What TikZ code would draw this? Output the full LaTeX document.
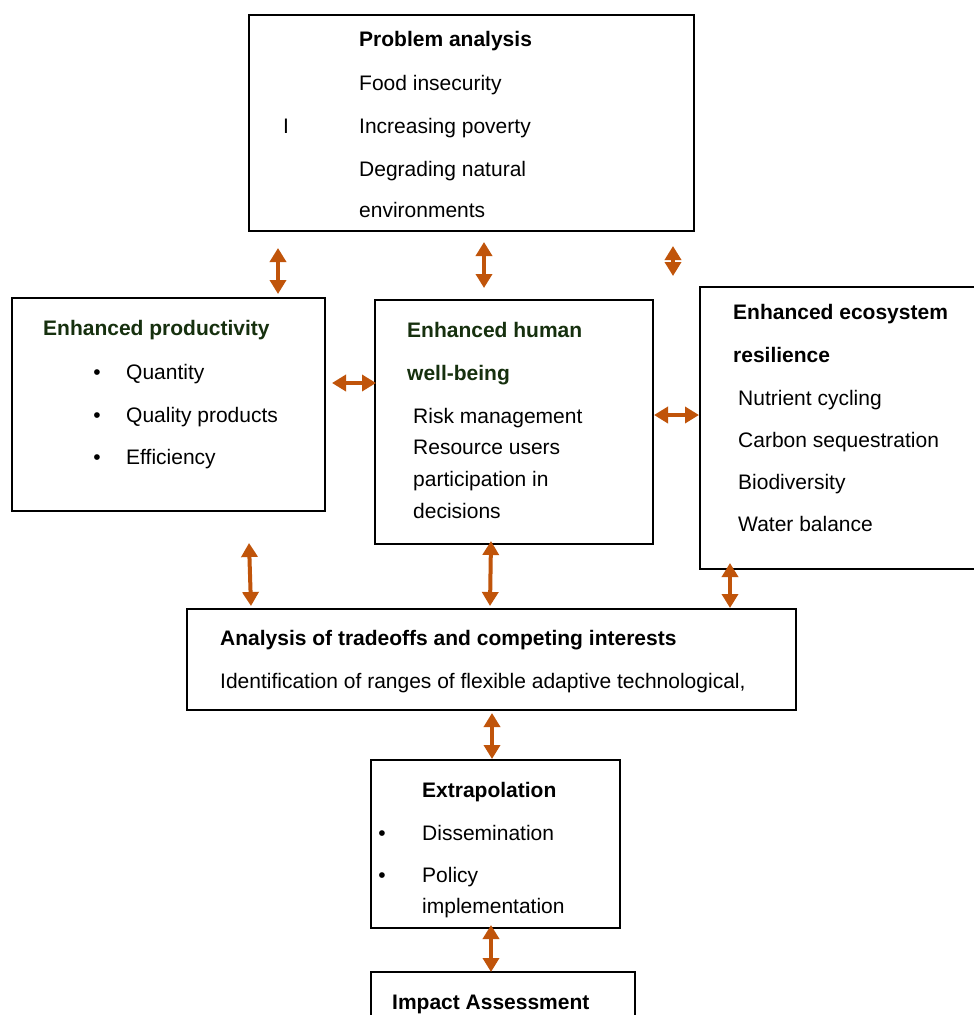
\documentclass[tikz,border=0pt]{standalone}
\usepackage{fontspec}
\setmainfont{Liberation Sans}
\usetikzlibrary{arrows.meta}
\definecolor{arr}{RGB}{192,84,10}
\definecolor{dgreen}{RGB}{22,48,14}
\begin{document}
\begin{tikzpicture}[x=1pt,y=-1pt,
  box/.style={draw=black,line width=2.2pt,anchor=north west,inner sep=0pt},
  txt/.style={anchor=base west,inner sep=0pt,font=\fontsize{21}{25}\selectfont},
  ttl/.style={anchor=base west,inner sep=0pt,font=\fontsize{21}{25}\selectfont\bfseries},
  gttl/.style={ttl,text=dgreen},
  bul/.style={anchor=base,inner sep=0pt,font=\fontsize{21}{25}\selectfont},
  dbl/.style={draw=arr,line width=4pt,{Triangle[width=16pt,length=14pt]}-{Triangle[width=16pt,length=14pt]}}
]
\clip (0,0) rectangle (974,1015);
\fill[white] (0,0) rectangle (974,1015);

% boxes
\node[box,minimum width=445pt,minimum height=216pt] (prob) at (248,14) {};
\node[box,minimum width=313pt,minimum height=213pt] (prod) at (11,297) {};
\node[box,minimum width=278pt,minimum height=244pt] (hum) at (374,299) {};
\node[box,minimum width=300pt,minimum height=282pt] (eco) at (699,286) {};
\node[box,minimum width=609pt,minimum height=101pt] (ana) at (186,608) {};
\node[box,minimum width=249pt,minimum height=168pt] (ext) at (370,759) {};
\node[box,minimum width=264pt,minimum height=80pt] (imp) at (370,971) {};

% problem analysis
\node[ttl] (probt) at (359,46) {Problem analysis};
\node[txt] (prob1) at (359,90) {Food insecurity};
\node[txt] (probI) at (283,133) {I};
\node[txt] (prob2) at (359,133) {Increasing poverty};
\node[txt] (prob3) at (359,176) {Degrading natural};
\node[txt] (prob4) at (359,217) {environments};

% productivity
\node[gttl] (prodt) at (43,335) {Enhanced productivity};
\node[bul] (prodb1) at (97,379) {•};
\node[bul] (prodb2) at (97,422) {•};
\node[bul] (prodb3) at (97,464) {•};
\node[txt] (prod1) at (126,379) {Quantity};
\node[txt] (prod2) at (126,422) {Quality products};
\node[txt] (prod3) at (126,464) {Efficiency};

% human well-being
\node[gttl] (humt1) at (407,337) {Enhanced human};
\node[gttl] (humt2) at (407,380) {well-being};
\node[txt] (hum1) at (413,423) {Risk management};
\node[txt] (hum2) at (413,454) {Resource users};
\node[txt] (hum3) at (413,486) {participation in};
\node[txt] (hum4) at (413,518) {decisions};

% ecosystem
\node[ttl] (ecot1) at (733,319) {Enhanced ecosystem};
\node[ttl] (ecot2) at (733,362) {resilience};
\node[txt] (eco1) at (738,405) {Nutrient cycling};
\node[txt] (eco2) at (738,447) {Carbon sequestration};
\node[txt] (eco3) at (738,489) {Biodiversity};
\node[txt] (eco4) at (738,531) {Water balance};

% analysis
\node[ttl] (anat) at (220,645) {Analysis of tradeoffs and competing interests};
\node[txt] (ana1) at (220,688) {Identification of ranges of flexible adaptive technological,};

% extrapolation
\node[ttl] (extt) at (422,797) {Extrapolation};
\node[bul] (extb1) at (382,840) {•};
\node[bul] (extb2) at (382,882) {•};
\node[txt] (ext1) at (422,840) {Dissemination};
\node[txt] (ext2) at (422,882) {Policy};
\node[txt] (ext3) at (422,913) {implementation};

% impact
\node[ttl] (impt) at (392,1009) {Impact Assessment};

% arrow end points
\coordinate (a1t) at (278,248); \coordinate (a1b) at (278,294);
\coordinate (a2t) at (484,242); \coordinate (a2b) at (484,288);
\coordinate (a3t) at (673,246); \coordinate (a3b) at (673,276);
\coordinate (a4l) at (332,383); \coordinate (a4r) at (376,383);
\coordinate (a5l) at (654,415); \coordinate (a5r) at (699,415);
\coordinate (a6t) at (249,543); \coordinate (a6b) at (251,606);
\coordinate (a7t) at (491,541); \coordinate (a7b) at (490,606);
\coordinate (a8t) at (730,563); \coordinate (a8b) at (730,608);
\coordinate (a9t) at (492,713); \coordinate (a9b) at (492,759);
\coordinate (a10t) at (491,925); \coordinate (a10b) at (491,972);

\draw[dbl] (a1t) -- (a1b);
\draw[dbl] (a2t) -- (a2b);
\draw[dbl] (a3t) -- (a3b);
\draw[dbl] (a4l) -- (a4r);
\draw[dbl] (a5l) -- (a5r);
\draw[dbl] (a6t) -- (a6b);
\draw[dbl] (a7t) -- (a7b);
\draw[dbl] (a8t) -- (a8b);
\draw[dbl] (a9t) -- (a9b);
\draw[dbl] (a10t) -- (a10b);
\end{tikzpicture}
\end{document}
